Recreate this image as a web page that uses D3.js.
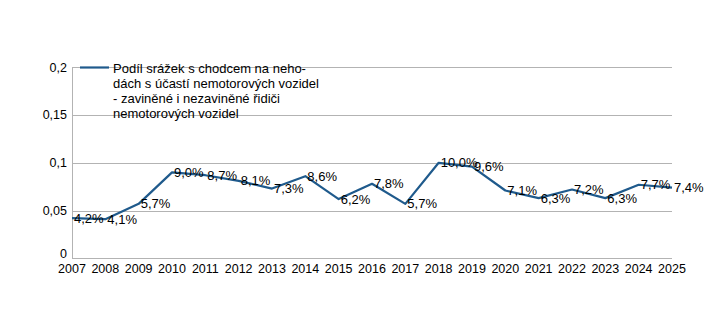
<!DOCTYPE html>
<html><head><meta charset="utf-8">
<script src="https://cdn.jsdelivr.net/npm/d3@7"></script>
<style>body{margin:0;background:#fff}svg{display:block}text{font-family:"Liberation Sans",Arial,sans-serif;fill:#000}</style>
</head><body>
<script>
const years = ["2007","2008","2009","2010","2011","2012","2013","2014","2015","2016","2017","2018","2019","2020","2021","2022","2023","2024","2025"];
const values = [0.042,0.041,0.057,0.090,0.087,0.081,0.073,0.086,0.062,0.078,0.057,0.100,0.096,0.071,0.063,0.072,0.063,0.077,0.074];
const yTicks = [0,0.05,0.1,0.15,0.2];
const yTickLabels = ["0","0,05","0,1","0,15","0,2"];
const legendLines = ["Podíl srážek s chodcem na neho-","dách s účastí nemotorových vozidel","- zaviněné i nezaviněné řidiči","nemotorových vozidel"];

const W=716,H=327;
const svg=d3.select("body").append("svg").attr("width",W).attr("height",H);
const x=d3.scalePoint().domain(years).range([72,672]);
const y=d3.scaleLinear().domain([0,0.2]).range([258.3,67.3]);
const blue="#1f5a8c";

// gridlines
svg.append("g").selectAll("line").data(yTicks).join("line")
  .attr("x1",72).attr("x2",672).attr("y1",d=>Math.round(y(d))+0.5).attr("y2",d=>Math.round(y(d))+0.5)
  .attr("stroke","#b3b3b3").attr("stroke-width",1);
// y axis line
svg.append("line").attr("x1",72.5).attr("x2",72.5).attr("y1",Math.round(y(0.2))).attr("y2",Math.round(y(0))+1)
  .attr("stroke","#b3b3b3");

// y axis labels
svg.append("g").selectAll("text").data(yTicks).join("text")
  .attr("x",67).attr("y",d=>d===0 ? y(d)-4.5 : y(d)).attr("dy","0.35em").attr("text-anchor","end")
  .style("font-size","12.5px").text((d,i)=>yTickLabels[i]);
// x labels
svg.append("g").selectAll("text").data(years).join("text")
  .attr("x",d=>x(d)).attr("y",268.5).attr("dy","0.35em").attr("text-anchor","middle")
  .style("font-size","12.5px").text(d=>d);

// line
const line=d3.line().x((d,i)=>x(years[i])).y(d=>y(d));
svg.append("path").datum(values).attr("d",line).attr("fill","none")
  .attr("stroke",blue).attr("stroke-width",2.2).attr("stroke-linejoin","round");

// data labels
svg.append("g").selectAll("text").data(values).join("text")
  .attr("x",(d,i)=>x(years[i])+2).attr("y",d=>y(d)).attr("dy","0.35em")
  .style("font-size","13px").text(d=>(d*100).toFixed(1).replace(".",",")+"%");

// legend
svg.append("line").attr("x1",80).attr("x2",109).attr("y1",67.5).attr("y2",67.5)
  .attr("stroke",blue).attr("stroke-width",2.2);
svg.append("g").selectAll("text").data(legendLines).join("text")
  .attr("x",113).attr("y",(d,i)=>68+i*15.3).attr("dy","0.35em")
  .style("font-size","13px").text(d=>d);
</script>
</body></html>
